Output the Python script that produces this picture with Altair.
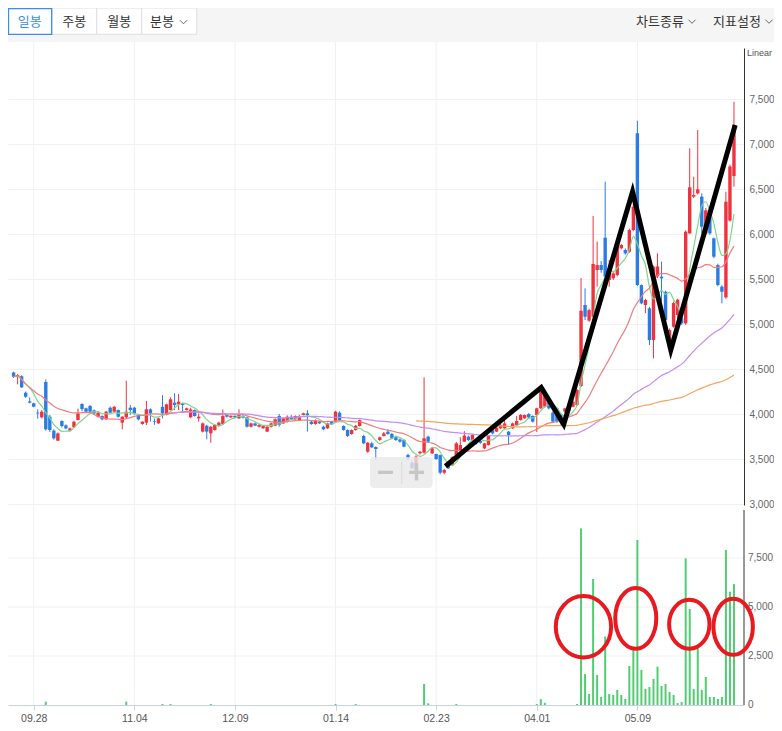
import altair as alt
import pandas as pd

# ---------------- data ----------------
opens = [4460, 4415, 4420, 4237, 4140, 4119, 4015, 3963, 4356, 3970,
         3815, 3704, 3922, 3874, 3815, 3852, 3933, 4111, 4063, 4089,
         4040, 3970, 3978, 3941, 4070, 4026, 4044, 3904, 3963, 4070,
         4070, 3989, 3889, 3904, 4052, 3922, 3896, 4080, 3989, 4044,
         4126, 4107, 4119, 4044, 3963, 4044, 3952, 3804, 3870, 3785,
         3822, 3867, 3889, 3989, 3963, 3978, 3952, 3978, 3963, 3859,
         3896, 3859, 3841, 3804, 3859, 3870, 3978, 3896, 3915, 3970,
         3941, 3933, 3989, 4007, 3915, 3889, 3915, 3859, 3841, 3915,
         3915, 4015, 3867, 3822, 3778, 3822, 3867, 3756, 3581, 3674,
         3633, 3711, 3756, 3804, 3778, 3748, 3718, 3711, 3544, 3459,
         3378, 3563, 3570, 3748, 3563, 3555, 3544, 3348, 3430, 3430,
         3544, 3600, 3693, 3748, 3711, 3711, 3700, 3618, 3655, 3822,
         3804, 3841, 3841, 3804, 3841, 3878, 3933, 3952, 4000, 3978,
         3989, 4063, 4082, 4155, 4015, 4063, 3989, 4026, 4037, 4081,
         4100, 4310, 5211, 5037, 5081, 5600, 5655, 5959, 5489, 5507,
         5544, 5841, 5822, 5804, 6044, 7119, 5433, 5211, 5174, 4822,
         5530, 5526, 5359, 4822, 4970, 5100, 5063, 5007, 6007, 6415,
         6452, 6415, 6007, 6230, 5952, 5655, 5415, 5296, 6150, 6644]
highs = [4470, 4445, 4430, 4250, 4185, 4125, 4052, 4045, 4385, 3990,
         3830, 3795, 3930, 3885, 3850, 3925, 4060, 4120, 4070, 4100,
         4050, 4020, 3985, 4035, 4085, 4090, 4050, 3975, 4370, 4100,
         4080, 4000, 3920, 4145, 4063, 3950, 3960, 4210, 4115, 4185,
         4230, 4222, 4126, 4070, 4070, 4050, 4007, 3905, 3880, 3865,
         3890, 3915, 4052, 3995, 3985, 3985, 4052, 3990, 3970, 3905,
         3905, 3890, 3875, 3865, 3905, 3950, 4000, 3960, 3985, 3990,
         3985, 3990, 4015, 4044, 3925, 3940, 3925, 3870, 3905, 3925,
         4035, 4030, 3875, 3830, 3830, 3880, 3940, 3770, 3690, 3690,
         3640, 3750, 3800, 3830, 3790, 3760, 3730, 3720, 3560, 3470,
         3540, 3590, 4407, 3760, 3630, 3560, 3550, 3390, 3460, 3530,
         3690, 3741, 3810, 3760, 3775, 3720, 3715, 3680, 3760, 3830,
         3855, 3890, 3952, 3810, 3905, 3977, 4000, 3995, 4010, 3985,
         4070, 4290, 4230, 4165, 4030, 4070, 4000, 4070, 4110, 4150,
         4280, 5511, 5396, 5170, 6200, 5915, 5700, 6581, 5711, 5580,
         5915, 5890, 5840, 6060, 6533, 7259, 5440, 5280, 5190, 5650,
         5785, 5693, 5370, 4950, 5250, 5280, 5080, 6040, 6952, 6637,
         7155, 6452, 6290, 6250, 5960, 5670, 5430, 6470, 6770, 7470]
lows = [4400, 4330, 4290, 4180, 4118, 4075, 3948, 3952, 3815, 3800,
        3715, 3700, 3850, 3830, 3805, 3845, 3930, 4030, 4020, 4010,
        3990, 3960, 3930, 3935, 4010, 4020, 3960, 3830, 3950, 3990,
        3990, 3930, 3880, 3878, 3915, 3880, 3890, 3952, 3985, 4040,
        4044, 4044, 4026, 4040, 3955, 3970, 3915, 3795, 3718, 3681,
        3815, 3860, 3880, 3960, 3955, 3950, 3945, 3950, 3850, 3850,
        3865, 3850, 3835, 3800, 3850, 3865, 3859, 3890, 3905, 3935,
        3935, 3930, 3985, 3804, 3880, 3880, 3890, 3820, 3835, 3880,
        3910, 3925, 3815, 3745, 3770, 3815, 3860, 3665, 3570, 3620,
        3489, 3700, 3750, 3770, 3720, 3700, 3680, 3630, 3490, 3390,
        3370, 3550, 3560, 3680, 3555, 3490, 3330, 3330, 3390, 3420,
        3540, 3590, 3690, 3700, 3705, 3660, 3670, 3610, 3650, 3775,
        3800, 3835, 3835, 3655, 3835, 3870, 3925, 3945, 3955, 3905,
        3800, 4055, 4070, 4050, 3900, 3900, 3880, 4015, 4030, 4075,
        4090, 4300, 5044, 5025, 5070, 5415, 5570, 5510, 5415, 5490,
        5530, 5830, 5770, 5790, 6030, 5420, 5220, 5120, 4767, 4618,
        5510, 5248, 5030, 4800, 4960, 5050, 4990, 4990, 6000, 6400,
        6440, 6007, 5990, 5990, 5730, 5420, 5230, 5280, 6137, 6526]
closes = [4415, 4433, 4296, 4193, 4126, 4082, 4007, 4026, 3830, 3822,
          3730, 3785, 3867, 3840, 3840, 3915, 4007, 4055, 4026, 4026,
          4007, 4015, 3941, 4026, 4015, 4080, 3970, 3970, 4026, 4044,
          4007, 3941, 3915, 4052, 4007, 3915, 3952, 4007, 4107, 4163,
          4100, 4137, 4100, 4063, 4050, 3978, 3970, 3896, 3804, 3859,
          3878, 3904, 3978, 3970, 3978, 3960, 3989, 3960, 3859, 3896,
          3870, 3878, 3870, 3859, 3896, 3941, 3878, 3952, 3970, 3941,
          3978, 3978, 4007, 3989, 3889, 3933, 3896, 3830, 3896, 3885,
          4026, 3933, 3822, 3756, 3822, 3870, 3933, 3674, 3681, 3630,
          3611, 3741, 3785, 3778, 3730, 3711, 3693, 3637, 3507, 3396,
          3526, 3581, 3730, 3693, 3618, 3500, 3348, 3378, 3396, 3520,
          3674, 3655, 3760, 3711, 3767, 3674, 3680, 3674, 3755, 3785,
          3848, 3878, 3896, 3767, 3896, 3922, 3989, 3989, 3963, 3915,
          4063, 4248, 4211, 4063, 3915, 3915, 3915, 4063, 4100, 4137,
          4267, 5148, 5081, 5155, 5667, 5655, 5600, 5526, 5563, 5563,
          5859, 5878, 5785, 6044, 6304, 5433, 5230, 5267, 4822, 5637,
          5640, 5507, 5044, 4933, 5233, 5270, 5007, 6026, 6519, 6433,
          6496, 6081, 6263, 6007, 5748, 5433, 5359, 6359, 6750, 7211]
volumes = [0, 0, 0, 0, 0, 0, 0, 0, 170000, 0,
           0, 0, 0, 0, 0, 0, 0, 0, 0, 0,
           0, 0, 0, 0, 0, 0, 0, 0, 170000, 0,
           0, 0, 0, 0, 0, 0, 0, 50000, 0, 50000,
           0, 0, 0, 0, 0, 0, 0, 0, 0, 50000,
           0, 0, 0, 0, 0, 0, 0, 0, 0, 0,
           0, 0, 0, 0, 0, 0, 0, 0, 0, 0,
           0, 0, 0, 0, 0, 0, 0, 0, 0, 0,
           50000, 0, 0, 0, 0, 50000, 0, 0, 0, 0,
           0, 0, 0, 0, 0, 0, 0, 0, 0, 0,
           0, 0, 1070000, 85000, 0, 0, 0, 0, 0, 0,
           50000, 0, 0, 0, 0, 0, 0, 0, 0, 0,
           0, 0, 0, 0, 0, 0, 0, 0, 0, 0,
           50000, 300000, 110000, 0, 0, 0, 0, 0, 0, 0,
           50000, 9010000, 1580000, 560000, 6430000, 1530000, 410000, 3490000, 560000, 510000,
           770000, 510000, 310000, 1990000, 2900000, 8420000, 1790000, 820000, 920000, 1330000,
           1960000, 970000, 1070000, 660000, 510000, 100000, 150000, 7480000, 4900000, 820000,
           2900000, 770000, 1430000, 410000, 410000, 310000, 410000, 7910000, 5780000, 6170000]

tick_idx = [5, 30, 55, 80, 105, 130, 155]
tick_lbl = ["09.28", "11.04", "12.09", "01.14", "02.23", "04.01", "05.09"]
price_ticks = [3000, 3500, 4000, 4500, 5000, 5500, 6000, 6500, 7000, 7500]
vol_ticks = [0, 2500000, 5000000, 7500000]

# moving averages: window length, first visible bar, colour
ma_specs = [(5, 0, "#7dd68c"), (20, 0, "#ef7d7d"), (60, 39, "#c48cf2"), (120, 100, "#f4a55e")]

# hand-drawn zigzag (bar index, price)
zz_i = [107.3, 131.1, 136.7, 153.8, 163.3, 179.3]
zz_p = [3420, 4295, 3885, 6470, 4711, 7211]

# hand-drawn red ellipses on the volume panel (bar index, volume, radii in px)
el_i = [141.6, 154.6, 167.9, 178.8]
el_v = [3990000, 4420000, 4120000, 3990000]
el_rx = [27.7, 20.5, 20.2, 19.7]
el_ry = [30.7, 30.3, 24.5, 28.0]

# ---------------- styling ----------------
RED = "#f0323e"
BLUE = "#2a7be4"
VGREEN = "#52cc72"
W, H = 736, 697
FONT = "Liberation Sans"
KFONT = "Noto Sans CJK KR"

df = pd.DataFrame({"i": list(range(len(closes))), "open": opens, "high": highs,
                   "low": lows, "close": closes, "vol": volumes})

label_expr = "[" + ",".join(f"'{s}'" for s in tick_lbl) + "][indexof([" + \
    ",".join(str(v) for v in tick_idx) + "], datum.value)]"

x_enc = alt.X("i:Q",
              scale=alt.Scale(domain=[-0.147, 180.25], nice=False, zero=False),
              axis=alt.Axis(values=tick_idx, labelExpr=label_expr, title=None,
                            grid=False, domainColor="#c9d3e0",
                            tickColor="#c9d3e0", tickSize=5, labelPadding=3,
                            labelFontSize=10.5, labelColor="#555", labelFont=FONT))

price_scale = alt.Scale(domain=[2989, 8067], range=[497, 40], nice=False, zero=False)
price_axis = alt.Axis(orient="right", values=price_ticks, labelExpr="format(datum.value, ',')",
                      title=None, grid=True, gridColor="#f1f1f1", domainColor="#333",
                      ticks=False, labelPadding=5, labelFontSize=10, labelColor="#666",
                      labelFont=FONT)
vol_scale = alt.Scale(domain=[0, 9949000], range=[697, 502], nice=False, zero=False)

base = alt.Chart(df)
cond = alt.condition("datum.close >= datum.open", alt.value(RED), alt.value(BLUE))

# vertical grid lines at the date ticks, through both panels
vgrid_x = alt.Chart(pd.DataFrame({"i": tick_idx})).mark_rule(color="#eef0f4").encode(
    x=x_enc, y=alt.value(34), y2=alt.value(H))

wick = base.mark_rule(strokeWidth=1).encode(
    x=x_enc, y=alt.Y("low:Q", scale=price_scale, axis=price_axis), y2="high:Q", color=cond)
body = base.mark_bar(size=3.4).encode(
    x=x_enc, y=alt.Y("open:Q", scale=price_scale, axis=price_axis), y2="close:Q", color=cond)

ma_layers = []
for n, start, col in ma_specs:
    ma_layers.append(
        base.transform_window(ma="mean(close)", frame=[-(n - 1), 0], sort=[alt.SortField("i")])
        .transform_filter(alt.datum.i >= start)
        .mark_line(color=col, strokeWidth=1.2, interpolate="monotone")
        .encode(x=x_enc, y=alt.Y("ma:Q", scale=price_scale, axis=price_axis))
    )

zz_df = pd.DataFrame({"i": zz_i, "p": zz_p, "o": list(range(len(zz_i)))})
zigzag = alt.Chart(zz_df).mark_line(color="black", strokeWidth=5, strokeJoin="miter").encode(
    x=x_enc, y=alt.Y("p:Q", scale=price_scale, axis=price_axis), order="o:Q")

price_group = alt.layer(wick, body, *ma_layers, zigzag)

# volume panel
vt_df = pd.DataFrame({"v": vol_ticks})
vgrid = alt.Chart(vt_df).transform_filter(alt.datum.v > 0).mark_rule(
    color="#f1f1f1").encode(y=alt.Y("v:Q", scale=vol_scale, axis=None),
                            x=alt.value(0), x2=alt.value(W))
vbars = base.mark_bar(size=2, color=VGREEN).encode(
    x=x_enc, y=alt.Y("vol:Q", scale=vol_scale, axis=None))
vlabels = alt.Chart(vt_df).mark_text(align="left", baseline="middle", fontSize=10,
                                     color="#666", font=FONT).encode(
    y=alt.Y("v:Q", scale=vol_scale, axis=None), x=alt.value(W + 4),
    text=alt.Text("v:Q", format=","))
vline = alt.Chart(pd.DataFrame({"a": [0], "b": [9949000]})).mark_rule(color="#333").encode(
    y=alt.Y("a:Q", scale=vol_scale, axis=None), y2="b:Q", x=alt.value(W))
el_df = pd.DataFrame({
    "i": el_i, "ev": el_v,
    "shp": [f"M{-rx/ry:.3f},0A{rx/ry:.3f},1 0 1,0 {rx/ry:.3f},0A{rx/ry:.3f},1 0 1,0 {-rx/ry:.3f},0Z"
            for rx, ry in zip(el_rx, el_ry)],
    "sz": [4 * ry * ry for ry in el_ry]})
ellipses = alt.Chart(el_df).mark_point(filled=False, color="#e8191f", strokeWidth=4,
                                       opacity=1).encode(
    x=x_enc, y=alt.Y("ev:Q", scale=vol_scale, axis=None),
    shape=alt.Shape("shp:N", scale=None), size=alt.Size("sz:Q", scale=None))

vol_group = alt.layer(vgrid, vbars, vline, vlabels, ellipses)

# ---------------- page chrome (toolbar, zoom buttons) ----------------
one = pd.DataFrame({"a": [0]})


def rect(x1, x2, y1, y2, **kw):
    return alt.Chart(one).mark_rect(**kw).encode(
        x=alt.value(x1), x2=alt.value(x2), y=alt.value(y1), y2=alt.value(y2))


def label(x, y, text, **kw):
    return alt.Chart(one).mark_text(text=text, **kw).encode(x=alt.value(x), y=alt.value(y))


def chevron(x, y):
    return alt.Chart(one).mark_point(shape="M-1,-0.5L0,0.5L1,-0.5", filled=False, size=52,
                                     strokeWidth=1, color="#666", opacity=1).encode(
        x=alt.value(x), y=alt.value(y))


buttons = ["일봉", "주봉", "월봉", "분봉"]
bx = [0, 43.7, 88.7, 133.7, 188.7]
chrome = [rect(-8, 774, -8, 34, color="#f5f5f5")]
for k in range(1, 4):
    chrome.append(rect(bx[k], bx[k + 1], 0, 26.3, fill="white", stroke="#dedede", strokeWidth=1))
chrome.append(rect(bx[0] + 0.5, bx[1], 0.5, 26.3, fill="white", stroke="#3a8ee6", strokeWidth=1.3))
chrome.append(label(21.8, 14, buttons[0], font=KFONT, fontSize=13, color="#3a8ee6"))
chrome.append(label(66.2, 14, buttons[1], font=KFONT, fontSize=13, color="#333"))
chrome.append(label(111.2, 14, buttons[2], font=KFONT, fontSize=13, color="#333"))
chrome.append(label(154, 14, buttons[3], font=KFONT, fontSize=13, color="#333"))
chrome.append(chevron(175.5, 14))
chrome.append(label(652, 13.5, "차트종류", font=KFONT, fontSize=13, color="#333"))
chrome.append(chevron(684, 13.5))
chrome.append(label(729, 13.5, "지표설정", font=KFONT, fontSize=13, color="#333"))
chrome.append(chevron(761, 13.5))
chrome.append(label(739, 45, "Linear", align="left", baseline="middle", font=FONT,
                    fontSize=9, color="#555"))
# zoom-button overlay
chrome.append(rect(362, 424.7, 449, 480, fill="#e9e9e9", opacity=0.8, cornerRadius=4))
chrome.append(rect(393.3, 394.3, 454, 476, fill="#d9d9d9"))
chrome.append(rect(370, 385, 462.7, 466, fill="#c6c6c6"))
chrome.append(rect(401, 416, 462.7, 466, fill="#c6c6c6"))
chrome.append(rect(406.8, 410.2, 455.5, 472.5, fill="#c6c6c6"))

chart = alt.layer(vgrid_x, price_group, vol_group, *chrome).resolve_scale(
    y="independent").properties(
    width=W, height=H,
    autosize=alt.AutoSizeParams(type="none"),
    padding={"left": 0, "top": 0, "right": 30, "bottom": 18},
    background="white",
).configure_view(stroke=None)

chart.save("out.html", embed_options={"renderer": "svg", "actions": False})
